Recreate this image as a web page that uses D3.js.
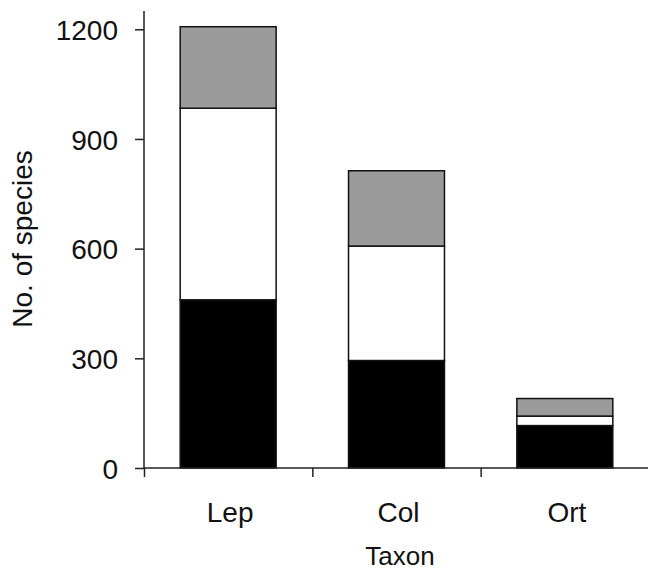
<!DOCTYPE html>
<html lang="en">
	<head>
		<meta charset="utf-8">
		<title>No. of species by taxon</title>
		<script type="text/javascript" src="https://cdn.jsdelivr.net/npm/d3@7"></script>
		<style type="text/css">
			body { margin: 0; background: #fff; }
			text { font-family: Arial, "Liberation Sans", sans-serif; fill: #111; }
		</style>
	</head>
	<body>
		<script type="text/javascript">

			// Data
			var taxa = ["Lep", "Col", "Ort"];
			var blackPart = [460, 294, 116];	// bottom segment
			var whitePart = [524, 313, 26];		// middle segment
			var grayPart = [223, 206, 48];		// top segment
			var yTicks = [0, 300, 600, 900, 1200];

			var segments = ["black", "white", "gray"];
			var fills = { black: "#000", white: "#fff", gray: "#9b9b9b" };

			// Build rows for the stack
			var rows = taxa.map(function(t, i) {
				return { taxon: t, black: blackPart[i], white: whitePart[i], gray: grayPart[i] };
			});

			// Size and plot edges
			var w = 648;
			var h = 571;
			var plotLeft = 144, plotRight = 649, plotTop = 11, plotBottom = 468;

			// Scales
			var xScale = d3.scaleBand()
							.domain(taxa)
							.range([plotLeft, plotRight])
							.paddingInner(0.43)
							.paddingOuter(0.215);

			var xEdges = d3.scaleLinear()
							.domain([0, taxa.length])
							.range([plotLeft, plotRight]);

			var yScale = d3.scaleLinear()
							.domain([0, 1250])
							.range([plotBottom, plotTop]);

			var stack = d3.stack().keys(segments)(rows);

			// SVG
			var svg = d3.select("body")
						.append("svg")
						.attr("width", w)
						.attr("height", h);

			// Bars
			svg.append("g")
				.selectAll("g")
				.data(stack)
				.enter()
				.append("g")
				.attr("fill", function(d) { return fills[d.key]; })
				.selectAll("rect")
				.data(function(d) { return d; })
				.enter()
				.append("rect")
				.attr("x", function(d) { return xScale(d.data.taxon); })
				.attr("y", function(d) { return yScale(d[1]); })
				.attr("width", xScale.bandwidth())
				.attr("height", function(d) { return yScale(d[0]) - yScale(d[1]); })
				.attr("stroke", "#111")
				.attr("stroke-width", 1.5);

			// Y axis
			var yAxis = d3.axisLeft(yScale)
							.tickValues(yTicks)
							.tickFormat(d3.format("d"))
							.tickSize(9)
							.tickPadding(17);

			var gy = svg.append("g")
				.attr("transform", "translate(" + plotLeft + ",0)")
				.call(yAxis);
			gy.select(".domain").attr("d", "M0," + plotTop + "V" + plotBottom);
			gy.selectAll("line, path").attr("stroke", "#222").attr("stroke-width", 1.5);
			gy.selectAll("text").attr("font-size", "28px").attr("dy", "0.36em");

			// X axis: ticks on the edges between taxa
			var xAxis = d3.axisBottom(xEdges)
							.tickValues(d3.range(taxa.length + 1))
							.tickSize(9)
							.tickFormat("");

			var gx = svg.append("g")
				.attr("transform", "translate(0," + plotBottom + ")")
				.call(xAxis);
			gx.select(".domain").attr("d", "M" + plotLeft + ",0H" + plotRight);
			gx.selectAll("line, path").attr("stroke", "#222").attr("stroke-width", 1.5);

			// Taxon labels
			svg.append("g")
				.selectAll("text")
				.data(taxa)
				.enter()
				.append("text")
				.attr("x", function(d) { return xScale(d) + xScale.bandwidth() / 2 + 2; })
				.attr("y", 522)
				.attr("text-anchor", "middle")
				.attr("font-size", "28px")
				.text(function(d) { return d; });

			// Axis titles
			svg.append("text")
				.attr("x", 400)
				.attr("y", 565)
				.attr("text-anchor", "middle")
				.attr("font-size", "26px")
				.text("Taxon");

			svg.append("text")
				.attr("transform", "translate(32,239) rotate(-90)")
				.attr("text-anchor", "middle")
				.attr("font-size", "28px")
				.text("No. of species");

		</script>
	</body>
</html>
